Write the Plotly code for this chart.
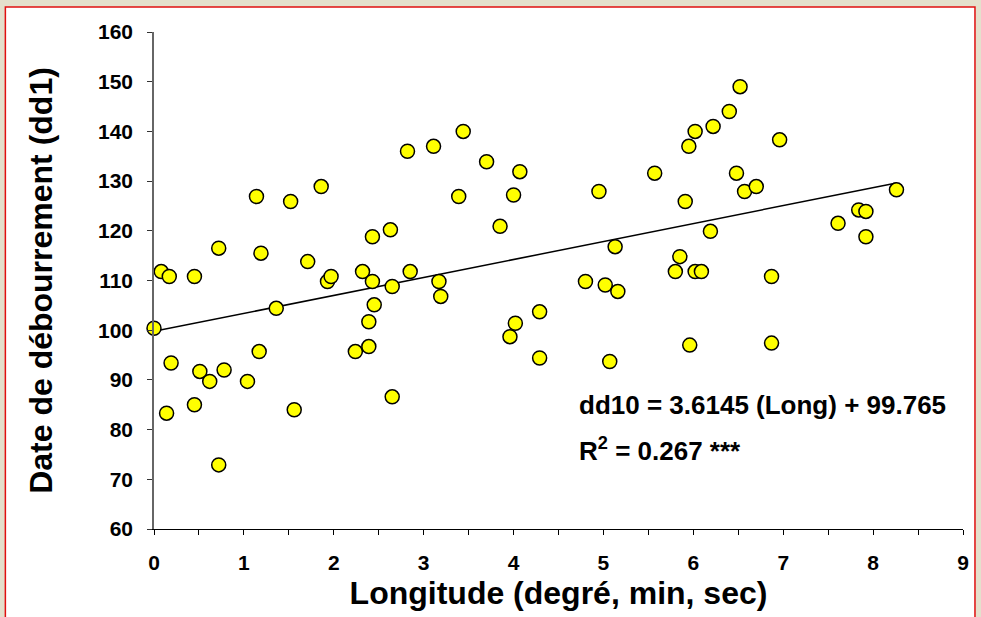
import plotly.graph_objects as go

# Longitude (x) and budburst date dd1 (y)
longitude = [0.00, 0.08, 0.17, 0.14, 0.19, 0.45, 0.45, 0.51, 0.62, 0.72,
             0.72, 0.78, 1.04, 1.14, 1.19, 1.17, 1.36, 1.52, 1.56, 1.71,
             1.86, 1.93, 1.97, 2.24, 2.32, 2.39, 2.39, 2.43, 2.43, 2.45,
             2.63, 2.65, 2.65, 2.82, 2.85, 3.11, 3.17, 3.19, 3.39, 3.44,
             3.70, 3.85, 3.96, 4.00, 4.02, 4.07, 4.29, 4.29, 4.80, 4.95,
             5.02, 5.07, 5.13, 5.16, 5.57, 5.80, 5.85, 5.91, 5.95, 5.96,
             6.02, 6.02, 6.09, 6.19, 6.22, 6.40, 6.48, 6.52, 6.57, 6.70,
             6.87, 6.87, 6.96, 7.61, 7.84, 7.92, 7.92, 8.26]
dd1 = [100.4, 111.8, 110.8, 83.3, 93.4, 110.8, 85.0, 91.7, 89.7, 116.5,
       72.9, 92.0, 89.7, 126.9, 115.5, 95.7, 104.4, 125.9, 84.0, 113.8,
       128.9, 109.8, 110.8, 95.7, 111.8, 96.7, 101.7, 118.8, 109.8, 105.1,
       120.2, 108.8, 86.6, 136.0, 111.8, 137.0, 109.8, 106.8, 126.9, 140.0,
       133.9, 120.9, 98.7, 127.2, 101.4, 131.9, 103.7, 94.4, 109.8, 127.9,
       109.1, 93.7, 116.8, 107.8, 131.6, 111.8, 114.8, 125.9, 137.0, 97.0,
       140.0, 111.8, 111.8, 119.9, 141.0, 144.0, 131.6, 149.0, 127.9, 128.9,
       110.8, 97.4, 138.3, 121.5, 124.2, 123.9, 118.8, 128.25]

slope = 3.6145
intercept = 99.765
eq_text = "dd10 = 3.6145 (Long) + 99.765"
r2_text = "R<sup>2</sup> = 0.267 ***"

x_ticks = [0, 1, 2, 3, 4, 5, 6, 7, 8, 9]
y_ticks = [60, 70, 80, 90, 100, 110, 120, 130, 140, 150, 160]

FONT = "Liberation Sans, Arial, sans-serif"
BG = "#e4e0cc"

fig = go.Figure()

x_line = [min(longitude), max(longitude)]
y_line = [slope * v + intercept for v in x_line]
fig.add_trace(go.Scatter(x=x_line, y=y_line, mode="lines",
                         line=dict(color="black", width=1.5),
                         hoverinfo="skip", showlegend=False))

fig.add_trace(go.Scatter(x=longitude, y=dd1, mode="markers",
                         marker=dict(size=14, color="#FFFF00",
                                     line=dict(color="black", width=1.5)),
                         showlegend=False, cliponaxis=False))

W, H = 981, 617
L, R, T, B = 154, 16, 32, 87
pw, ph = W - L - R, H - T - B

def px(xp):
    return (xp - L) / pw

def py(yp):
    return (H - B - yp) / ph

fig.add_shape(type="rect", xref="paper", yref="paper",
              x0=px(5), x1=px(977), y0=py(640), y1=py(7),
              fillcolor="white", line=dict(color="#e01010", width=1.5),
              layer="below")

fig.add_annotation(x=px(578), y=py(406), xref="paper", yref="paper",
                   text=eq_text, showarrow=False, xanchor="left", yanchor="middle",
                   font=dict(family=FONT, size=26, color="black", weight="bold"))
fig.add_annotation(x=px(578), y=py(450), xref="paper", yref="paper",
                   text=r2_text, showarrow=False, xanchor="left", yanchor="middle",
                   font=dict(family=FONT, size=26, color="black", weight="bold"))

fig.update_layout(
    width=W, height=H,
    margin=dict(l=L, r=R, t=T, b=B),
    paper_bgcolor=BG,
    plot_bgcolor="rgba(0,0,0,0)",
    font=dict(family=FONT, color="black"),
    xaxis=dict(range=[0, 9], tickvals=x_ticks, ticktext=[str(v) for v in x_ticks],
               showgrid=False, zeroline=False, showline=True, linecolor="black",
               linewidth=1.2, ticks="outside", ticklen=5, tickcolor="black",
               ticklabelstandoff=10,
               minor=dict(dtick=0.5, ticks="outside", ticklen=5, tickcolor="black"),
               tickfont=dict(family=FONT, size=21, color="black", weight="bold"),
               title=dict(text="Longitude (degré, min, sec)", standoff=8,
                          font=dict(family=FONT, size=32, color="black", weight="bold"))),
    yaxis=dict(range=[60, 160], tickvals=y_ticks, ticktext=[str(v) for v in y_ticks],
               showgrid=False, zeroline=False, showline=True, linecolor="#666666",
               linewidth=1.5, ticks="outside", ticklen=5, tickcolor="#333333",
               ticklabelstandoff=10,
               tickfont=dict(family=FONT, size=21, color="black", weight="bold"),
               title=dict(text="Date de débourrement (dd1)", standoff=36,
                          font=dict(family=FONT, size=32, color="black", weight="bold"))),
)

fig.write_html("out.html",
               config={"displayModeBar": False},
               post_script="document.body.style.margin='0';"
                           "document.body.style.background='" + BG + "';")
